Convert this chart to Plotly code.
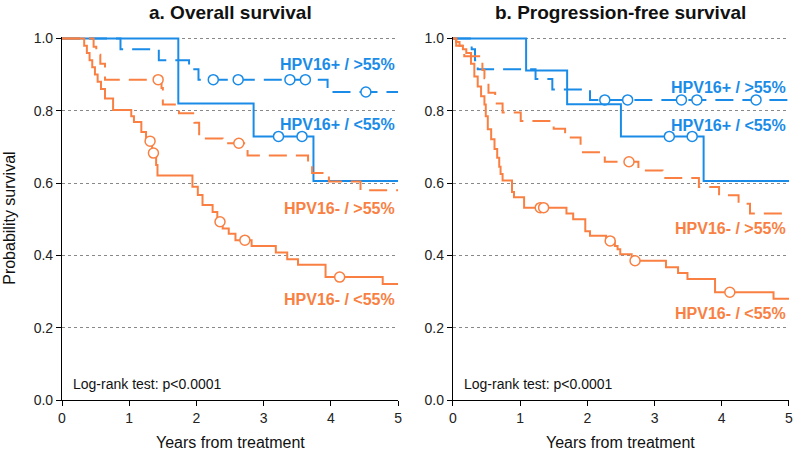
import numpy as np
import plotly.graph_objs as go

# colours
BLUE = '#1a8ce8'
ORANGE = '#f98042'
FOLLOWUP_END = 5.0

# ---- a. Overall survival ----
os_pos_lo_t = [0, 1.73, 2.85, 3.74]
os_pos_lo_s = [1.0, 0.82, 0.729, 0.606]
os_pos_lo_cens = [3.22, 3.57]

os_pos_hi_t = [0, 0.87, 1.44, 1.89, 2.03, 3.95]
os_pos_hi_s = [1.0, 0.97, 0.94, 0.915, 0.886, 0.852]
os_pos_hi_cens = [2.25, 2.62, 3.39, 3.62, 4.52]

os_neg_hi_t = [0, 0.47, 0.51, 0.57, 0.64, 1.48, 1.50, 1.74, 1.97, 2.04, 2.39, 2.76, 3.66, 3.72, 3.97, 4.44]
os_neg_hi_s = [1.0, 0.977, 0.955, 0.93, 0.886, 0.863, 0.817, 0.793, 0.767, 0.723, 0.71, 0.676, 0.65, 0.628, 0.604, 0.58]
os_neg_hi_cens = [1.43, 2.63]

os_neg_lo_t = [0, 0.33, 0.37, 0.41, 0.45, 0.49, 0.53, 0.58, 0.64, 0.76, 1.03, 1.07, 1.18, 1.25, 1.34, 1.40,
               1.42, 1.94, 2.02, 2.09, 2.24, 2.31, 2.39, 2.48, 2.58, 2.82, 3.18, 3.35, 3.51, 3.92, 4.77]
os_neg_lo_s = [1.0, 0.98, 0.96, 0.94, 0.92, 0.90, 0.88, 0.86, 0.834, 0.802, 0.785, 0.769, 0.741, 0.716, 0.683, 0.65,
               0.621, 0.590, 0.567, 0.539, 0.52, 0.493, 0.474, 0.46, 0.442, 0.426, 0.408, 0.389, 0.374, 0.34, 0.321]
os_neg_lo_cens = [1.31, 1.36, 2.35, 2.72, 4.13]

# ---- b. Progression-free survival ----
pfs_pos_lo_t = [0, 1.09, 1.70, 2.50, 3.73]
pfs_pos_lo_s = [1.0, 0.911, 0.818, 0.729, 0.606]
pfs_pos_lo_cens = [3.22, 3.56]

pfs_pos_hi_t = [0, 0.28, 0.33, 0.37, 1.23, 1.48, 2.04]
pfs_pos_hi_s = [1.0, 0.97, 0.94, 0.915, 0.888, 0.859, 0.83]
pfs_pos_hi_cens = [2.26, 2.60, 3.40, 3.63, 4.51]

pfs_neg_hi_t = [0, 0.05, 0.17, 0.44, 0.47, 0.53, 0.63, 0.74, 1.01, 1.50, 1.67, 1.90, 2.26, 2.76, 3.12, 3.66, 3.96, 4.25, 4.42]
pfs_neg_hi_s = [1.0, 0.98, 0.951, 0.913, 0.89, 0.85, 0.82, 0.795, 0.772, 0.75, 0.726, 0.685, 0.659, 0.635, 0.614, 0.589, 0.566, 0.543, 0.516]
pfs_neg_hi_cens = [2.62]

pfs_neg_lo_t = [0, 0.05, 0.10, 0.15, 0.20, 0.27, 0.32, 0.37, 0.42, 0.47, 0.49, 0.52, 0.57, 0.62, 0.66, 0.69, 0.71,
                0.74, 0.88, 0.91, 1.06, 1.69, 1.79, 1.97, 2.04, 2.28, 2.41, 2.45, 2.49, 2.66, 3.17, 3.35, 3.49, 3.90, 4.77]
pfs_neg_lo_s = [1.0, 0.99, 0.98, 0.97, 0.96, 0.93, 0.895, 0.867, 0.84, 0.817, 0.785, 0.749, 0.721, 0.694, 0.67, 0.645, 0.625,
                0.607, 0.575, 0.561, 0.532, 0.516, 0.50, 0.467, 0.454, 0.44, 0.426, 0.417, 0.403, 0.385, 0.367, 0.351, 0.335, 0.298, 0.28]
pfs_neg_lo_cens = [1.30, 1.35, 2.34, 2.71, 4.12]

panel_titles = ['a. Overall survival', 'b. Progression-free survival']
group_labels = ['HPV16+ / >55%', 'HPV16+ / <55%', 'HPV16- / >55%', 'HPV16- / <55%']
# label heights per panel (in survival units)
label_y = [[0.927, 0.762, 0.529, 0.277], [0.865, 0.759, 0.475, 0.24]]
y_ticks = [0.0, 0.2, 0.4, 0.6, 0.8, 1.0]
x_ticks = [0, 1, 2, 3, 4, 5]

panels = [
    [(os_pos_hi_t, os_pos_hi_s, os_pos_hi_cens, BLUE, 'dash'),
     (os_pos_lo_t, os_pos_lo_s, os_pos_lo_cens, BLUE, 'solid'),
     (os_neg_hi_t, os_neg_hi_s, os_neg_hi_cens, ORANGE, 'dash'),
     (os_neg_lo_t, os_neg_lo_s, os_neg_lo_cens, ORANGE, 'solid')],
    [(pfs_pos_hi_t, pfs_pos_hi_s, pfs_pos_hi_cens, BLUE, 'dash'),
     (pfs_pos_lo_t, pfs_pos_lo_s, pfs_pos_lo_cens, BLUE, 'solid'),
     (pfs_neg_hi_t, pfs_neg_hi_s, pfs_neg_hi_cens, ORANGE, 'dash'),
     (pfs_neg_lo_t, pfs_neg_lo_s, pfs_neg_lo_cens, ORANGE, 'solid')],
]

fig = go.Figure()

for p, curves in enumerate(panels):
    xa = 'x' if p == 0 else 'x2'
    ya = 'y' if p == 0 else 'y2'
    for t, s, cens, col, style in curves:
        xs = list(t) + [FOLLOWUP_END]
        ys = list(s) + [s[-1]]
        fig.add_trace(go.Scatter(
            x=xs, y=ys, mode='lines', line_shape='hv', xaxis=xa, yaxis=ya,
            line=dict(color=col, width=2, dash='18px,9px' if style == 'dash' else 'solid'),
            showlegend=False, hoverinfo='skip'))
        # censored points sit on the step they fall in
        idx = np.searchsorted(t, cens, side='right') - 1
        cy = [s[i] for i in idx]
        fig.add_trace(go.Scatter(
            x=cens, y=cy, mode='markers', xaxis=xa, yaxis=ya,
            marker=dict(symbol='circle', size=10, color='white', line=dict(color=col, width=1.5)),
            showlegend=False, hoverinfo='skip'))

annotations = []
for p in range(2):
    xa = 'x' if p == 0 else 'x2'
    ya = 'y' if p == 0 else 'y2'
    for k, lab in enumerate(group_labels):
        annotations.append(dict(
            x=4.98, y=label_y[p][k], xref=xa, yref=ya, text='<b>' + lab + '</b>',
            showarrow=False, xanchor='right', yanchor='middle',
            font=dict(size=16, color=BLUE if k < 2 else ORANGE)))
    annotations.append(dict(
        x=0.13, y=0.045, xref=xa, yref=ya, text='Log-rank test: p<0.0001',
        showarrow=False, xanchor='left', yanchor='middle', font=dict(size=14, color='#111')))
    annotations.append(dict(
        x=2.5, y=-0.118, xref=xa, yref='paper', text='Years from treatment',
        showarrow=False, xanchor='center', yanchor='middle', font=dict(size=16, color='#111')))
    annotations.append(dict(
        x=2.5, y=1.068, xref=xa, yref='paper', text='<b>' + panel_titles[p] + '</b>',
        showarrow=False, xanchor='center', yanchor='middle', font=dict(size=19, color='#111')))

annotations.append(dict(
    x=-0.0725, y=0.5, xref='paper', yref='paper', text='Probability survival', textangle=-90,
    showarrow=False, xanchor='center', yanchor='middle', font=dict(size=16, color='#111')))

axis_x = dict(range=[0, 5], tickvals=x_ticks, ticks='outside', ticklen=5, tickcolor='black',
              showline=True, linecolor='black', linewidth=1.2, showgrid=False, zeroline=False,
              tickfont=dict(size=14, color='#222'))
axis_y = dict(range=[0, 1.004], tickvals=y_ticks, ticktext=['%.1f' % v for v in y_ticks],
              ticks='outside', ticklen=5, tickcolor='black',
              showline=True, linecolor='black', linewidth=1.2, zeroline=False,
              showgrid=True, gridcolor='#888', griddash='dot', gridwidth=1,
              tickfont=dict(size=14, color='#222'))

fig.update_layout(
    width=797, height=453,
    margin=dict(l=62, r=4, t=37, b=53),
    paper_bgcolor='white', plot_bgcolor='white',
    font=dict(family='Liberation Sans, Arial, sans-serif'),
    xaxis=dict(axis_x, domain=[0, 0.4624], anchor='y'),
    yaxis=dict(axis_y, anchor='x'),
    xaxis2=dict(axis_x, domain=[0.5376, 1], anchor='y2'),
    yaxis2=dict(axis_y, anchor='x2'),
    annotations=annotations,
)

# drop the default 8px page margin so the figure sits at the window corner
fig.write_html("out.html", config={'displayModeBar': False},
               post_script="document.body.style.margin='0px';")
